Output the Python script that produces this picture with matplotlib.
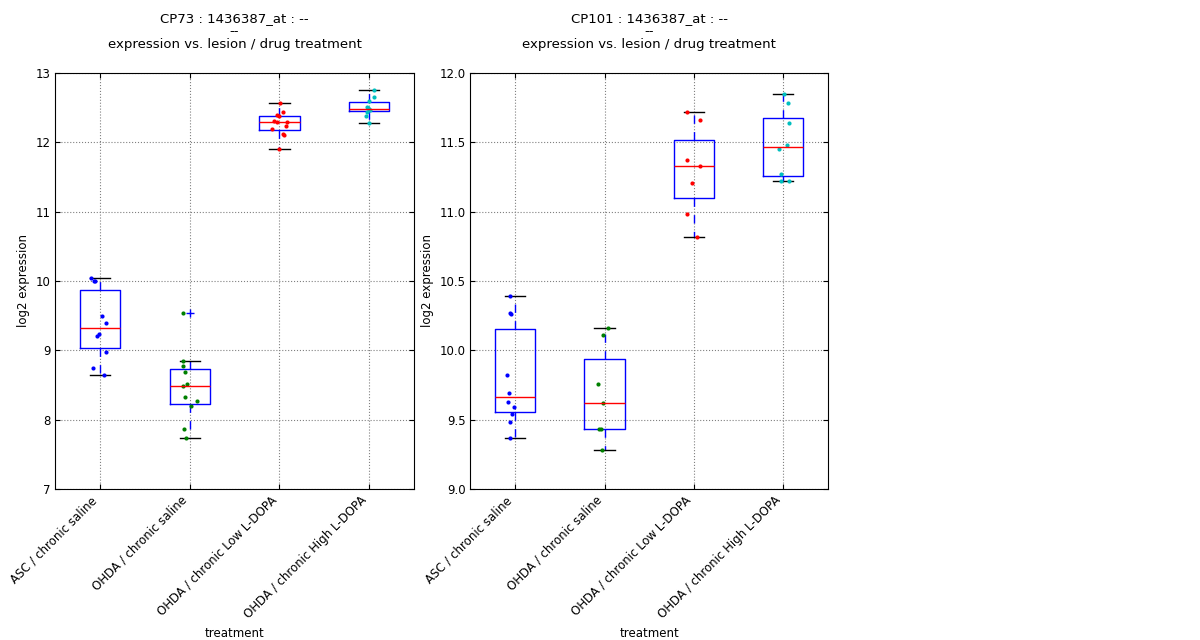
import numpy as np
import matplotlib
matplotlib.use("Agg")
import matplotlib.pyplot as plt

groups = ["ASC / chronic saline", "OHDA / chronic saline",
          "OHDA / chronic Low L-DOPA", "OHDA / chronic High L-DOPA"]
colors = ["blue", "green", "red", "c"]

# CP73 panel
cp73_asc = [10.04, 10.0, 10.0, 9.50, 9.40, 9.24, 9.21, 8.97, 8.75, 8.65]
cp73_ohda = [9.54, 8.85, 8.77, 8.69, 8.52, 8.49, 8.32, 8.27, 8.19, 7.87, 7.73]
cp73_low = [12.57, 12.43, 12.40, 12.38, 12.31, 12.29, 12.29, 12.24, 12.19, 12.12, 12.11, 11.90]
cp73_high = [12.75, 12.66, 12.60, 12.51, 12.49, 12.48, 12.46, 12.44, 12.38, 12.28]
cp73_jitter = [
    [-0.10, -0.07, -0.06, 0.02, 0.07, -0.01, -0.03, 0.07, -0.08, 0.04],
    [-0.07, -0.07, -0.08, -0.05, -0.03, -0.08, -0.05, 0.08, 0.01, -0.06, -0.04],
    [0.01, 0.04, -0.03, -0.01, -0.06, -0.03, 0.08, 0.07, -0.08, 0.04, 0.05, -0.01],
    [0.05, 0.05, 0.00, -0.02, -0.01, 0.00, 0.01, -0.02, -0.03, 0.00],
]
cp73_ylim = (7, 13)

# CP101 panel
cp101_asc = [10.39, 10.27, 10.26, 9.82, 9.69, 9.63, 9.59, 9.54, 9.48, 9.37]
cp101_ohda = [10.16, 10.11, 9.76, 9.62, 9.43, 9.43, 9.28]
cp101_low = [11.72, 11.66, 11.37, 11.33, 11.21, 10.98, 10.82]
cp101_high = [11.85, 11.78, 11.64, 11.48, 11.45, 11.27, 11.22, 11.22]
cp101_jitter = [
    [-0.06, -0.06, -0.05, -0.09, -0.07, -0.08, -0.01, -0.03, -0.06, -0.06],
    [0.04, -0.02, -0.07, -0.02, -0.06, -0.04, -0.03],
    [-0.08, 0.07, -0.08, 0.07, -0.02, -0.08, 0.04],
    [0.01, 0.05, 0.06, 0.04, -0.05, -0.03, -0.03, 0.06],
]
cp101_ylim = (9, 12)


def panel(ax, data, jitter, ylim, title):
    ax.boxplot(data, widths=0.45, whis=1.5,
               boxprops=dict(color="blue"),
               whiskerprops=dict(color="blue", linestyle="--", dashes=(6, 6)),
               capprops=dict(color="black"),
               medianprops=dict(color="red"),
               flierprops=dict(marker="+", markeredgecolor="blue", markersize=6))
    for i, (vals, jit) in enumerate(zip(data, jitter)):
        ax.plot(np.array(jit) + i + 1, vals, "o", color=colors[i],
                markersize=3, markeredgewidth=0)
    ax.set_ylim(*ylim)
    ax.set_xlim(0.5, 4.5)
    ax.grid(True, linestyle=":", color="gray")
    ax.set_xticks([1, 2, 3, 4])
    ax.set_xticklabels(groups, rotation=45, ha="right", fontsize=8.5)
    ax.tick_params(axis="y", labelsize=8.5, direction="in")
    ax.tick_params(axis="x", direction="in")
    ax.set_xlabel("treatment", fontsize=8.5)
    ax.set_ylabel("log2 expression", fontsize=8.5)
    ax.set_title(title, fontsize=9.5, pad=18, linespacing=1.0)
    ax.yaxis.set_ticks_position("both")
    ax.xaxis.set_ticks_position("both")


fig = plt.figure(figsize=(12, 6.4), dpi=100)
ax1 = fig.add_axes([0.046, 0.236, 0.299, 0.650])
ax2 = fig.add_axes([0.392, 0.236, 0.298, 0.650])
panel(ax1, [cp73_asc, cp73_ohda, cp73_low, cp73_high], cp73_jitter, cp73_ylim,
      "CP73 : 1436387_at : --\n--\nexpression vs. lesion / drug treatment")
ax1.set_yticks(np.arange(7, 14, 1))
panel(ax2, [cp101_asc, cp101_ohda, cp101_low, cp101_high], cp101_jitter, cp101_ylim,
      "CP101 : 1436387_at : --\n--\nexpression vs. lesion / drug treatment")
ax2.set_yticks(np.arange(9, 12.01, 0.5))
ax2.set_yticklabels([f"{v:.1f}" for v in np.arange(9, 12.01, 0.5)])
fig.savefig("out.png", dpi=100)
